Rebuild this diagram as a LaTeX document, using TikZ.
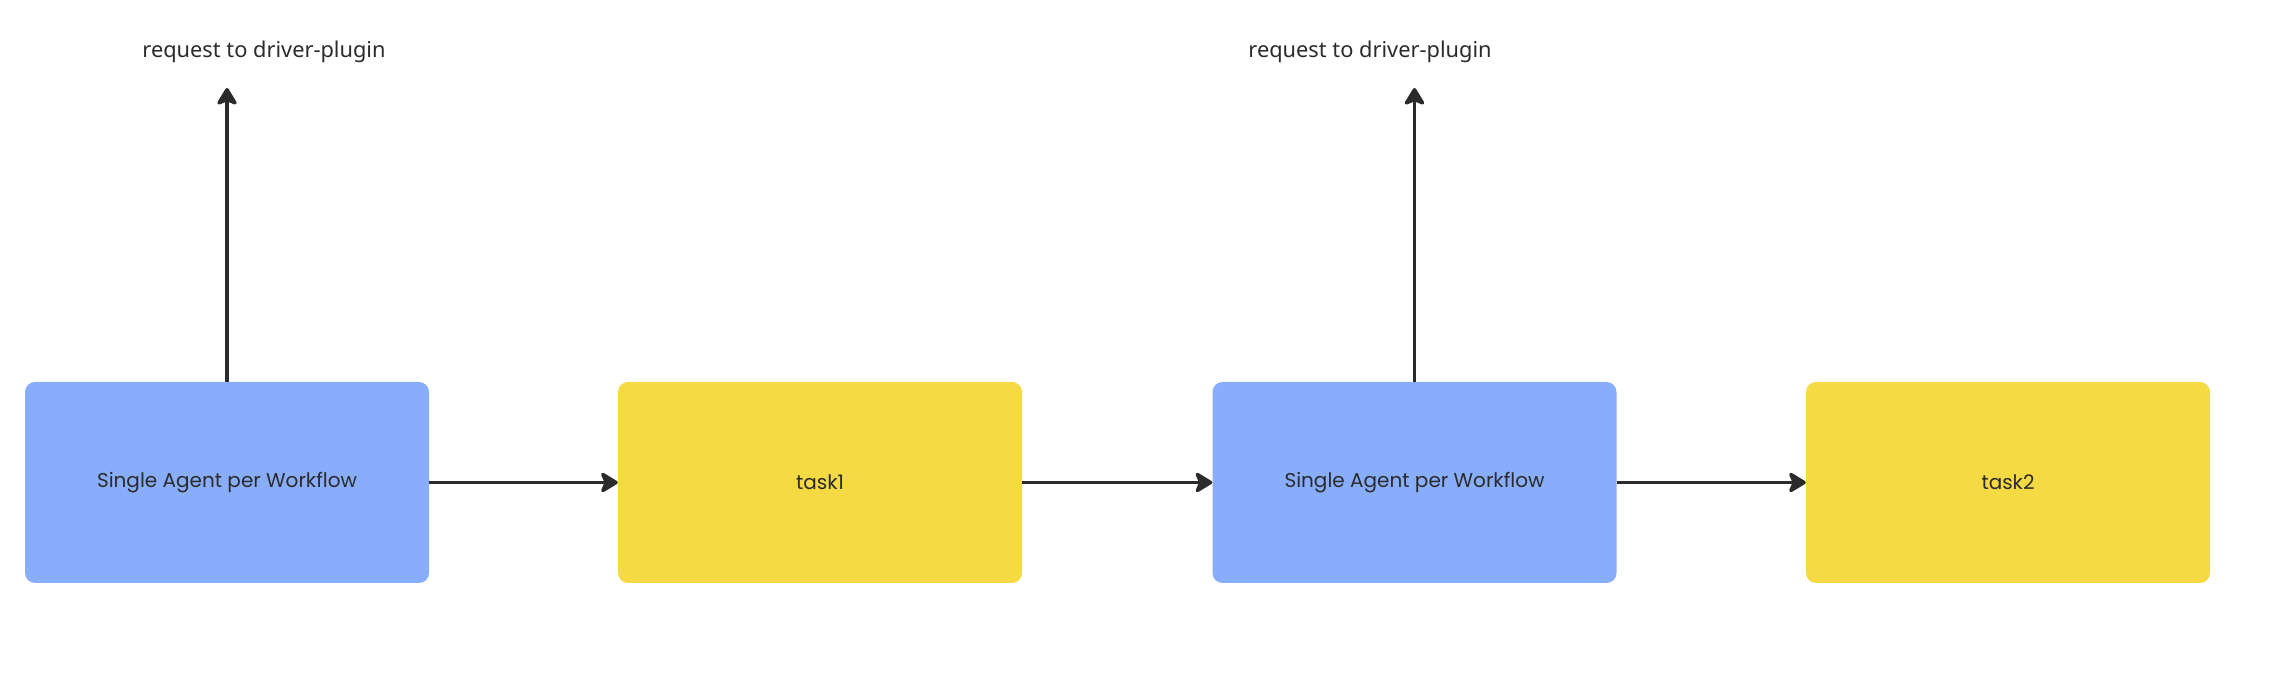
\documentclass[tikz,border=0pt]{standalone}
\usepackage{fontspec}
\setmainfont{Noto Sans}
\newfontfamily\boxfont{Poppins}
\usepackage{tikz}
\usetikzlibrary{arrows.meta, positioning}
\definecolor{agentblue}{RGB}{136,173,250}
\definecolor{taskyellow}{RGB}{245,218,67}
\definecolor{wire}{RGB}{43,43,43}

\begin{document}
\begin{tikzpicture}[x=1pt, y=1pt,
		agent/.style={fill=agentblue, rounded corners=10pt, minimum width=404pt, minimum height=201pt, text=wire, font=\boxfont\fontsize{20}{24}\selectfont},
		task/.style={agent, fill=taskyellow},
		flow/.style={draw=wire, line width=3.5pt, -{Stealth[length=20pt, width=24pt, inset=5pt, round]}},
		note/.style={text=wire, font=\fontsize{21.8}{26}\selectfont}]
				\useasboundingbox (0,0) rectangle (2296,692);
				% Boxes:
				\node[agent](A1) at (227, 209.5){Single Agent per Workflow};
				\node[task](T1) at (820, 209.5){task1};
				\node[agent](A2) at (1414.5, 209.5){Single Agent per Workflow};
				\node[task](T2) at (2008, 209.5){task2};
				% Requests:
				\coordinate (R1) at (227, 604);
				\coordinate (R2) at (1414.5, 604);
				\node[note](L1) at (264, 640){request to driver-plugin};
				\node[note](L2) at (1370, 640){request to driver-plugin};
				% Arrows:
				\draw[flow] (A1.east) -- (T1.west);
				\draw[flow] (T1.east) -- (A2.west);
				\draw[flow] (A2.east) -- (T2.west);
				\draw[flow] (A1.north) -- (R1);
				\draw[flow] (A2.north) -- (R2);
			\end{tikzpicture}
\end{document}
